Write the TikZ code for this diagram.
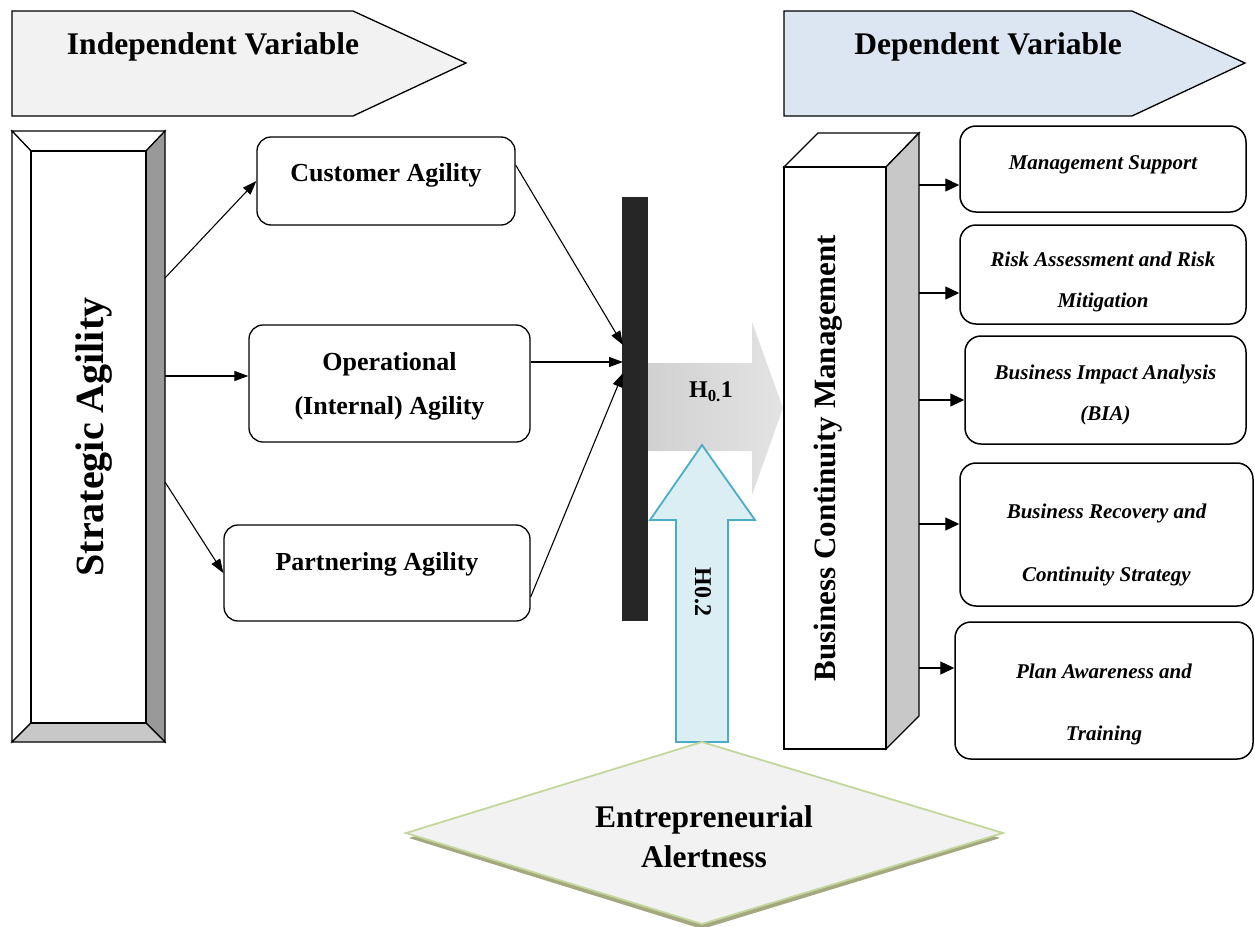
\documentclass[tikz,border=0pt]{standalone}
\usepackage{fontspec}
\setmainfont{Liberation Serif}
\usetikzlibrary{arrows.meta,positioning}

\definecolor{headgray}{HTML}{F2F2F2}
\definecolor{headblue}{HTML}{DCE6F2}
\definecolor{barblack}{HTML}{262626}
\definecolor{bevdark}{HTML}{999999}
\definecolor{bevlight}{HTML}{C8C8C8}
\definecolor{modfill}{HTML}{DAEEF3}
\definecolor{moddraw}{HTML}{4BACC6}
\definecolor{eagreen}{HTML}{C3D69B}
\definecolor{eashadow}{HTML}{A5A87F}

\newcommand{\fsz}[2]{\fontsize{#1pt}{#2pt}\selectfont}
% move box text up (+) or down (-) without changing the box
\newcommand{\lift}[2]{\raisebox{#1}[\height][\depth]{\begin{tabular}{@{}c@{}}#2\end{tabular}}}

\tikzset{
  headtxt/.style={font=\fsz{31.5}{36}\bfseries},
  agbox/.style={draw, line width=1.3pt, rounded corners=14pt, align=center,
    font=\fsz{26}{30}\bfseries, inner sep=0pt},
  dimbox/.style={draw, line width=1.5pt, rounded corners=16pt, align=center,
    font=\fsz{21}{24}\bfseries\itshape, inner sep=0pt},
  link/.style={-{Triangle[length=14pt,width=10pt]}, line width=1.1pt},
  dimlink/.style={-{Triangle[length=14pt,width=13pt]}, line width=1.4pt},
}

\begin{document}
\begin{tikzpicture}[x=1pt,y=-1pt]
\useasboundingbox (0,0) rectangle (1255,926);

% heading arrows
\draw[line width=1.3pt, fill=headgray] (12,11) -- (353,11) -- (466,63) -- (353,116) -- (12,116) -- cycle;
\node[headtxt] (indep) at (213,47) {Independent Variable};
\draw[line width=1.3pt, fill=headblue] (784,11) -- (1132,11) -- (1245,63) -- (1132,116) -- (784,116) -- cycle;
\node[headtxt] (dep) at (988,47) {Dependent Variable};

% strategic agility (bevel box)
\filldraw[line width=1.2pt, fill=white] (12,131) -- (165,131) -- (146,151) -- (31,151) -- cycle;
\filldraw[line width=1.2pt, fill=white] (12,131) -- (31,151) -- (31,723) -- (12,742) -- cycle;
\filldraw[line width=1.2pt, fill=bevdark] (165,131) -- (165,742) -- (146,723) -- (146,151) -- cycle;
\filldraw[line width=1.2pt, fill=bevlight] (12,742) -- (165,742) -- (146,723) -- (31,723) -- cycle;
\node[draw, line width=1.2pt, minimum width=115, minimum height=572, inner sep=0pt,
  font=\fsz{40}{44}\bfseries] (sa) at (88.5,437) {\rotatebox{90}{\lift{-6pt}{Strategic Agility}}};

% agility dimensions
\node[agbox, minimum width=258, minimum height=88] (cust) at (386,181) {\lift{6pt}{Customer Agility}};
\node[agbox, minimum width=281, minimum height=117] (oper) at (389.5,383.5) {\lift{-3pt}{Operational\\[14pt](Internal) Agility}};
\node[agbox, minimum width=306, minimum height=96] (part) at (377,573) {\lift{9pt}{Partnering Agility}};

\coordinate (s1) at (165,278);
\coordinate (s2) at (165,376);
\coordinate (s3) at (165,482);
\draw[link] (s1) -- (cust.west);
\draw[link] (s2) -- (s2 -| oper.west);
\draw[link] (s3) -- (part.west);

% bar
\node[fill=barblack, minimum width=26, minimum height=424, inner sep=0pt] (bar) at (635,409) {};
\coordinate (b1) at (623,345);
\coordinate (b2) at (623,362);
\coordinate (b3) at (623,373);
\draw[link] ([yshift=16pt]cust.east) -- (b1);
\draw[link] (b2 -| oper.east) -- (b2);
\draw[link] ([yshift=-24pt]part.east) -- (b3);

% H0.1 arrow
\shade[left color=gray!36, right color=gray!22] (648,363) -- (752,363) -- (752,322) -- (783,408)
  -- (752,495) -- (752,451) -- (648,451) -- cycle;
\node[font=\fsz{24}{28}\bfseries] (h1) at (711,392) {H\textsubscript{0.}1};

% H0.2 arrow
\filldraw[fill=modfill, draw=moddraw, line width=1.8pt] (676,742) -- (676,520) -- (650,520) -- (702,445)
  -- (755,520) -- (728,520) -- (728,742) -- cycle;
\node[font=\fsz{24}{28}\bfseries, rotate=-90] (h2) at (703,592) {H0.2};

% business continuity management (3d box)
\filldraw[line width=1.3pt, fill=white] (784,167) -- (818,133) -- (919,133) -- (886,167) -- cycle;
\filldraw[line width=1.3pt, fill=bevlight] (886,167) -- (919,133) -- (919,716) -- (886,749) -- cycle;
\node[draw, fill=white, line width=1.3pt, minimum width=102, minimum height=582, inner sep=0pt,
  font=\fsz{31}{35}\bfseries] (bcm) at (835,458) {\rotatebox{90}{\lift{7pt}{Business Continuity Management}}};

% bcm dimensions
\node[dimbox, minimum width=286, minimum height=86] (m1) at (1103,169) {\lift{4pt}{Management Support}};
\node[dimbox, minimum width=286, minimum height=99] (m2) at (1103,274.5) {\lift{-8pt}{Risk Assessment and Risk\\[17pt]Mitigation}};
\node[dimbox, minimum width=281, minimum height=108] (m3) at (1105.5,390) {\lift{-5pt}{Business Impact Analysis\\[17pt](BIA)}};
\node[dimbox, minimum width=293, minimum height=143] (m4) at (1106.5,534.5) {\lift{-11pt}{Business Recovery and\\[39pt]Continuity Strategy}};
\node[dimbox, minimum width=298, minimum height=137] (m5) at (1104,690.5) {\lift{-14pt}{Plan Awareness and\\[38pt]Training}};

\coordinate (o1) at (919,185);
\coordinate (o2) at (919,293);
\coordinate (o3) at (919,400);
\coordinate (o4) at (919,524);
\coordinate (o5) at (919,668);
\draw[dimlink] (o1) -- (o1 -| m1.west);
\draw[dimlink] (o2) -- (o2 -| m2.west);
\draw[dimlink] (o3) -- (o3 -| m3.west);
\draw[dimlink] (o4) -- (o4 -| m4.west);
\draw[dimlink] (o5) -- (o5 -| m5.west);

% entrepreneurial alertness
\fill[eashadow] (409,838) -- (702,747) -- (1000,838) -- (702,929) -- cycle;
\filldraw[fill=headgray, draw=eagreen, line width=1.8pt] (406,833) -- (702,742) -- (1003,833) -- (702,924) -- cycle;
\node[font=\fsz{31.5}{36}\bfseries, align=center] (ea) at (704,837) {Entrepreneurial\\[4pt]Alertness};
\end{tikzpicture}
\end{document}
